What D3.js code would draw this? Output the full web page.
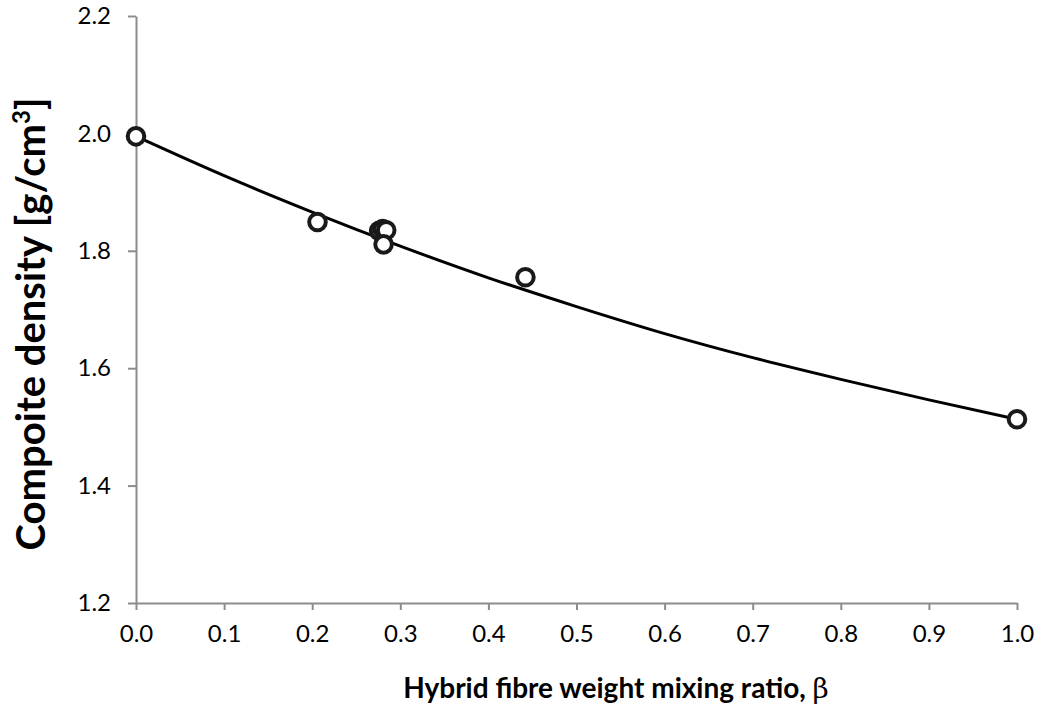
<!DOCTYPE html>
<html>
<head>
<meta charset="utf-8">
<script src="https://cdn.jsdelivr.net/npm/d3@7"></script>
<style>
  body { margin: 0; background: #fff; }
  svg text { font-family: Lato, "Open Sans", sans-serif; fill: #000; }
</style>
</head>
<body>
<div id="page"></div>
<script>
// configure graph
const width = 1041
const height = 718
const margin = {left: 136, right: 24, top: 16, bottom: 115}

// measured points (beta, density)
const betaPoints = [0.0, 0.206, 0.276, 0.280, 0.284, 0.281, 0.442, 1.0];
const densityPoints = [1.995, 1.849, 1.834, 1.837, 1.835, 1.811, 1.755, 1.513];

// fitted curve
const betaCurve = [0.0, 0.1, 0.2, 0.3, 0.4, 0.5, 0.6, 0.7, 0.8, 0.9, 1.0];
const densityCurve = [1.995, 1.928, 1.866, 1.808, 1.754, 1.705, 1.659, 1.618, 1.581, 1.546, 1.513];

const xTicks = [0, 0.1, 0.2, 0.3, 0.4, 0.5, 0.6, 0.7, 0.8, 0.9, 1.0];
const yTicks = [1.2, 1.4, 1.6, 1.8, 2.0, 2.2];

window.onload = function(){
	var svg = d3.select('#page').append('svg')
		.attr('width', width)
		.attr('height', height);

	var x = d3.scaleLinear().domain([0, 1]).range([margin.left, width - margin.right]);
	var y = d3.scaleLinear().domain([1.2, 2.2]).range([height - margin.bottom, margin.top]);

	// axes
	var xAxis = svg.append('g')
		.attr('transform', 'translate(0,' + y(1.2) + ')')
		.call(d3.axisBottom(x).tickValues(xTicks).tickFormat(d3.format('.1f'))
			.tickSizeInner(7).tickSizeOuter(0).tickPadding(15));
	var yAxis = svg.append('g')
		.attr('transform', 'translate(' + x(0) + ',0)')
		.call(d3.axisLeft(y).tickValues(yTicks).tickFormat(d3.format('.1f'))
			.tickSizeInner(8).tickSizeOuter(0).tickPadding(17));

	for (let ax of [xAxis, yAxis]) {
		ax.attr('font-size', null);
		ax.selectAll('path, line').attr('stroke', '#8c8c8c').attr('stroke-width', 2);
		ax.selectAll('text').style('font-size', '24px').attr('fill', '#000');
	}

	// curve
	var curveData = betaCurve.map((b, i) => [b, densityCurve[i]]);
	svg.append('path')
		.datum(curveData)
		.attr('fill', 'none')
		.attr('stroke', '#000')
		.attr('stroke-width', 3)
		.attr('d', d3.line().x(d => x(d[0])).y(d => y(d[1])).curve(d3.curveMonotoneX));

	// markers
	svg.append('g').selectAll('circle')
		.data(betaPoints.map((b, i) => [b, densityPoints[i]]))
		.enter().append('circle')
		.attr('cx', d => x(d[0]))
		.attr('cy', d => y(d[1]))
		.attr('r', 8.3)
		.attr('fill', '#fff')
		.attr('stroke', '#1a1a1a')
		.attr('stroke-width', 4);

	// axis titles
	var xt = svg.append('text')
		.attr('x', 616).attr('y', 698)
		.attr('text-anchor', 'middle')
		.style('font-size', '28px').style('font-weight', 'bold');
	xt.append('tspan').text('Hybrid fibre weight mixing ratio, ');
	xt.append('tspan').style('font-family', '"DejaVu Serif", serif').style('font-weight', 'normal').text('β');

	var yt = svg.append('text')
		.attr('transform', 'translate(45,' + 324 + ') rotate(-90)')
		.attr('text-anchor', 'middle')
		.style('font-size', '40px').style('font-weight', 'bold');
	yt.append('tspan').text('Compoite density [g/cm');
	yt.append('tspan').attr('dy', -15).style('font-size', '24px').text('3');
	yt.append('tspan').attr('dy', 15).text(']');
}
</script>
</body>
</html>
